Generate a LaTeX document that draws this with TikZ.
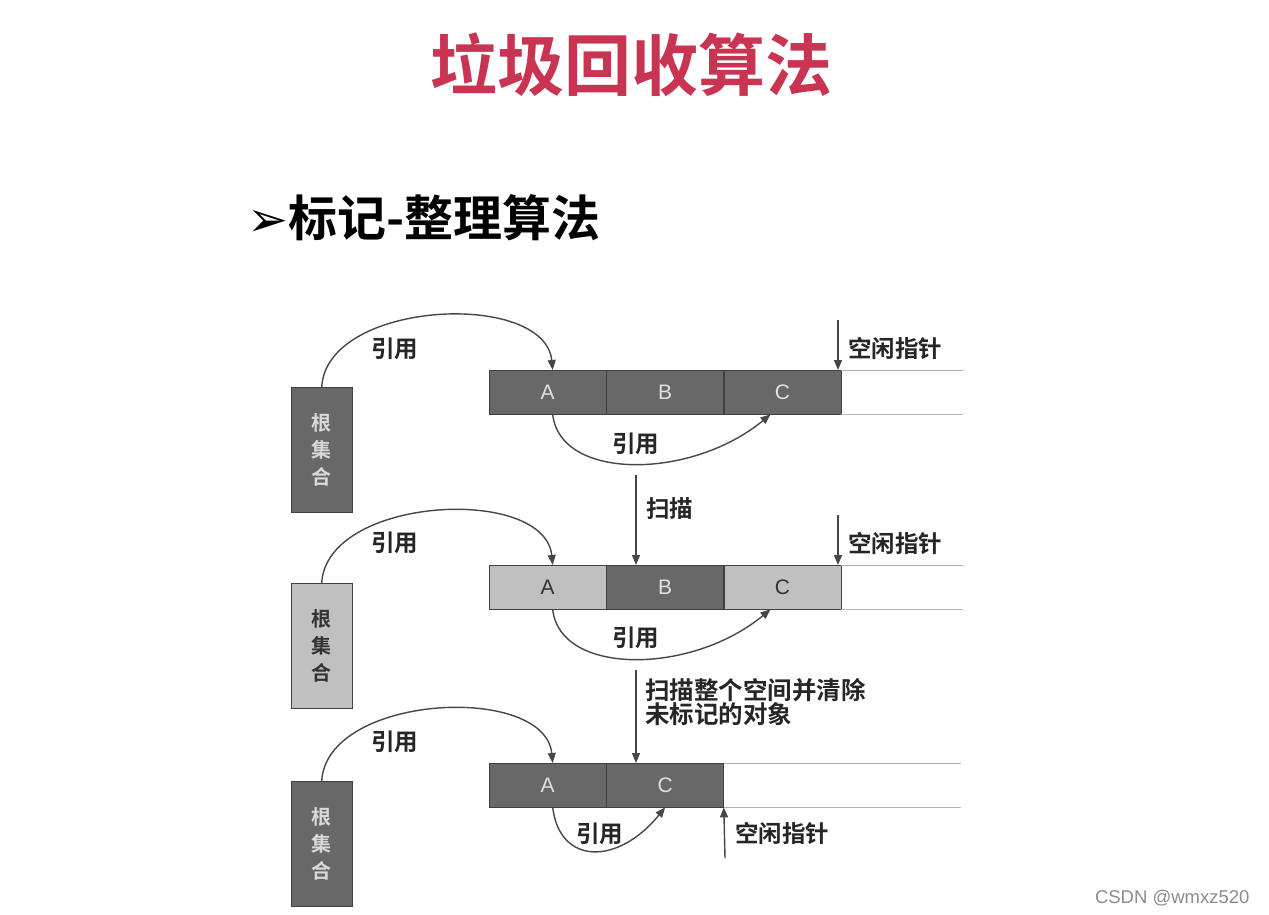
\documentclass[tikz,border=0pt]{standalone}
\usepackage{fontspec}
\usetikzlibrary{arrows.meta}
\setmainfont{Liberation Sans}
\newfontfamily\cjk[BoldFont={Noto Sans CJK SC Bold}]{Noto Sans CJK SC}
\newfontfamily\sym{DejaVu Sans}
\definecolor{gcell}{RGB}{104,104,104}
\definecolor{glight}{RGB}{192,192,192}
\definecolor{titlered}{RGB}{200,52,82}

\begin{document}
\begin{tikzpicture}[x=1pt,y=-1pt,
  cell/.style={draw=black!75,minimum width=117pt,minimum height=44pt,inner sep=0pt,
    anchor=north west,font=\fontsize{21}{21}\selectfont},
  darkcell/.style={cell,fill=gcell,text=black!12},
  lightcell/.style={cell,fill=glight,text=black!80},
  rootbox/.style={draw=black!75,minimum width=61pt,minimum height=125pt,inner sep=0pt,
    anchor=north west,align=center,font=\cjk\bfseries\fontsize{20}{27}\selectfont},
  lbl/.style={anchor=west,inner sep=0pt,text=black!85,font=\cjk\bfseries\fontsize{23.5}{24}\selectfont},
  arr/.style={draw=black!72,line width=1.4pt,-{Triangle[length=10pt,width=8pt]}},
  openline/.style={draw=black!30,line width=1pt}]
  \useasboundingbox[fill=white] (0,0) rectangle (1269,915);
  % headings
  \node[text=titlered,font=\cjk\bfseries\fontsize{67}{67}\selectfont] (title) at (631,65) {垃圾回收算法};
  \node[anchor=west,inner sep=0pt,font=\fontsize{49}{49}\selectfont] (sub) at (247,218)
    {{\sym ➢}{\cjk\bfseries 标记-整理算法}};

  % row 1: marking
  \node[rootbox,fill=gcell,text=black!15] (r1) at (291,387) {根\\集\\合};
  \node[darkcell] (a1) at (489,370) {A};
  \node[darkcell] (b1) at (a1.north east) {B};
  \node[darkcell] (c1) at (b1.north east) {C};
  \draw[openline] (c1.north east) -- ++(122,0);
  \draw[openline] (c1.south east) -- ++(122,0);
  \draw[arr] (r1.north) .. controls +(5,-87) and +(-8,-80) .. ([xshift=5pt]a1.north);
  \draw[arr] ([xshift=5pt]a1.south) .. controls +(7,66) and +(-80,66) .. ([xshift=-12pt]c1.south);
  \node[lbl] (l1) at (371,349) {引用};
  \node[lbl] (m1) at (612,444) {引用};
  \coordinate (f1) at (838,320);
  \draw[arr] (f1) -- (f1 |- c1.north);
  \node[lbl] (p1) at (848,348) {空闲指针};

  % row 2: after scan
  \node[rootbox,fill=glight,text=black!80] (r2) at (291,583) {根\\集\\合};
  \node[lightcell] (a2) at (489,565) {A};
  \node[darkcell] (b2) at (a2.north east) {B};
  \node[lightcell] (c2) at (b2.north east) {C};
  \draw[openline] (c2.north east) -- ++(122,0);
  \draw[openline] (c2.south east) -- ++(122,0);
  \draw[arr] (r2.north) .. controls +(5,-87) and +(-8,-80) .. ([xshift=5pt]a2.north);
  \draw[arr] ([xshift=5pt]a2.south) .. controls +(7,66) and +(-80,66) .. ([xshift=-12pt]c2.south);
  \node[lbl] (l2) at (371,543) {引用};
  \node[lbl] (m2) at (612,638) {引用};
  \coordinate (f2) at (838,515);
  \draw[arr] (f2) -- (f2 |- c2.north);
  \node[lbl] (p2) at (848,543) {空闲指针};
  \coordinate (s1) at (636,475);
  \draw[arr] (s1) -- (s1 |- b2.north);
  \node[lbl] (t1) at (646,509) {扫描};

  % row 3: compacted
  \node[rootbox,fill=gcell,text=black!15] (r3) at (291,781) {根\\集\\合};
  \node[darkcell] (a3) at (489,763) {A};
  \node[darkcell] (c3) at (a3.north east) {C};
  \draw[openline] (c3.north east) -- ++(237,0);
  \draw[openline] (c3.south east) -- ++(237,0);
  \draw[arr] (r3.north) .. controls +(5,-87) and +(-8,-80) .. ([xshift=5pt]a3.north);
  \draw[arr] ([xshift=5pt]a3.south) .. controls +(7,58) and +(-47,58) .. (c3.south);
  \node[lbl] (l3) at (371,742) {引用};
  \node[lbl] (m3) at (576,834) {引用};
  \coordinate (f3) at (725,858);
  \draw[arr] (f3) -- (c3.south east);
  \node[lbl] (p3) at (735,833) {空闲指针};
  \coordinate (s2) at (636,670);
  \draw[arr] (s2) -- (s2 |- c3.north);
  \node[lbl,align=left,font=\cjk\bfseries\fontsize{24.5}{24}\selectfont] (t2) at (645,702)
    {扫描整个空间并清除\\未标记的对象};

  \node[anchor=east,text=black!45,font=\fontsize{18.5}{18.5}\selectfont] (wm) at (1253,898) {CSDN @wmxz520};
\end{tikzpicture}
\end{document}
